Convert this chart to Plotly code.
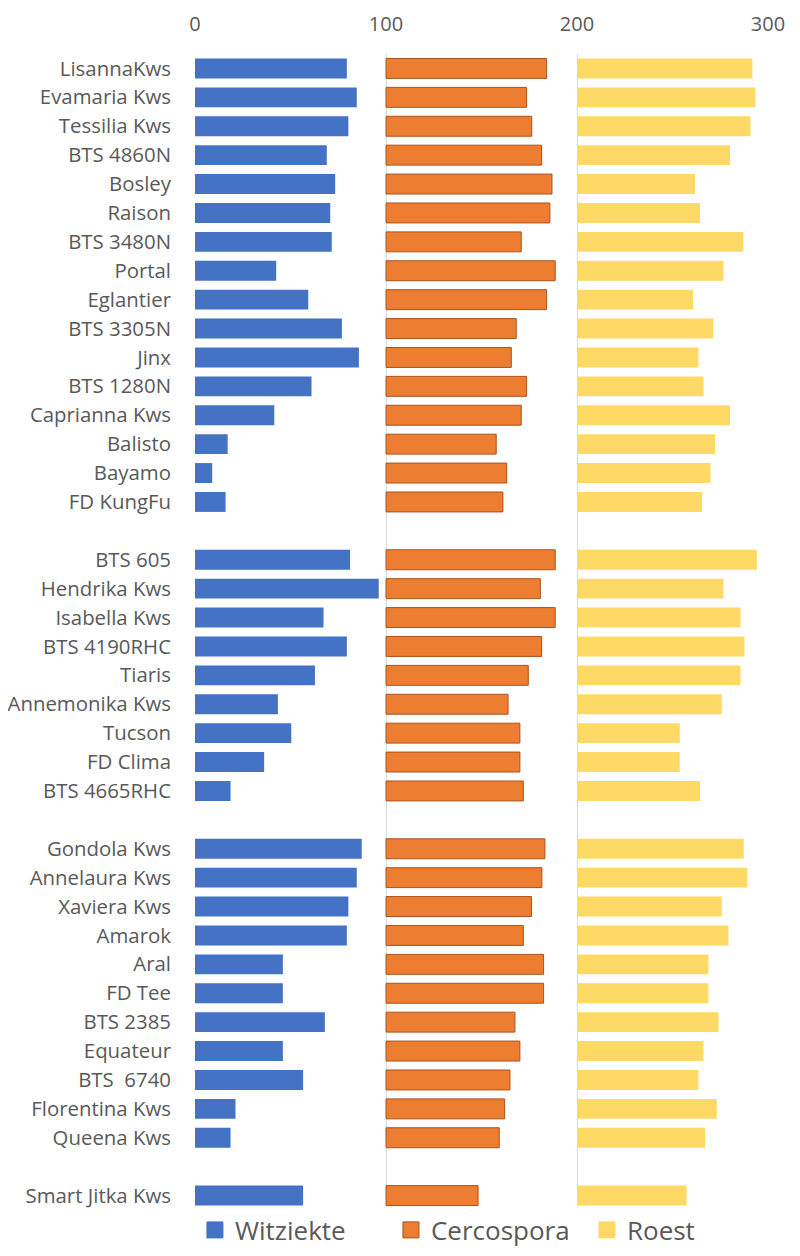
import plotly.graph_objects as go

# Rassen (blank names keep the gaps between the groups)
rassen = ['LisannaKws', 'Evamaria Kws', 'Tessilia Kws', 'BTS 4860N', 'Bosley', 'Raison',
          'BTS 3480N', 'Portal', 'Eglantier', 'BTS 3305N', 'Jinx', 'BTS 1280N',
          'Caprianna Kws', 'Balisto', 'Bayamo', 'FD KungFu', ' ',
          'BTS 605', 'Hendrika Kws', 'Isabella Kws', 'BTS 4190RHC', 'Tiaris',
          'Annemonika Kws', 'Tucson', 'FD Clima', 'BTS 4665RHC', '  ',
          'Gondola Kws', 'Annelaura Kws', 'Xaviera Kws', 'Amarok', 'Aral', 'FD Tee',
          'BTS 2385', 'Equateur', 'BTS  6740', 'Florentina Kws', 'Queena Kws', '   ',
          'Smart Jitka Kws']

witziekte = [79.5, 84.7, 80.3, 69.0, 73.4, 70.8, 71.6, 42.5, 59.3, 76.9, 85.8, 61.0,
             41.5, 17.1, 9.0, 16.0, None,
             81.2, 96.2, 67.3, 79.5, 62.8, 43.4, 50.4, 36.2, 18.6, None,
             87.3, 84.7, 80.3, 79.5, 46.0, 46.0, 68.0, 46.0, 56.6, 21.2, 18.6, None,
             56.6]

cercospora = [84.1, 73.6, 76.3, 81.5, 86.9, 85.8, 70.8, 88.6, 84.1, 68.2, 65.6, 73.6,
              70.8, 57.7, 63.2, 61.2, None,
              88.6, 80.8, 88.6, 81.5, 74.5, 63.9, 70.1, 70.1, 71.9, None,
              83.2, 81.6, 76.2, 71.9, 82.5, 82.5, 67.5, 70.1, 64.9, 62.1, 59.3, None,
              48.2]

roest = [91.8, 93.4, 90.8, 80.1, 61.8, 64.4, 87.1, 76.7, 60.8, 71.4, 63.6, 66.2,
         80.1, 72.3, 69.9, 65.5, None,
         94.2, 76.7, 85.6, 87.7, 85.6, 75.8, 53.8, 53.8, 64.4, None,
         87.3, 89.2, 75.8, 79.3, 68.8, 68.8, 74.1, 66.2, 63.6, 73.2, 67.1, None,
         57.3]

series = [('Witziekte', witziekte, 0, '#4472C4', None),
          ('Cercospora', cercospora, 100, '#ED7D31', '#A9541C'),
          ('Roest', roest, 200, '#FFD966', None)]

# each disease gets its own 100-wide column on the shared axis
fig = go.Figure()
for name, vals, base, color, edge in series:
    fig.add_trace(go.Bar(y=rassen, x=vals, base=base, orientation='h', name=name,
                         legendgroup=name, showlegend=False,
                         marker=dict(color=color,
                                     line=dict(color=edge or color, width=1 if edge else 0))))
# legend entries with bigger square swatches
for name, vals, base, color, edge in series:
    fig.add_trace(go.Scatter(x=[None], y=[None], mode='markers', name=name,
                             legendgroup=name,
                             marker=dict(symbol='square', size=16, color=color,
                                         line=dict(color=edge or color, width=1))))

fig.update_layout(
    width=800, height=1256,
    barmode='overlay', bargap=0.31,
    plot_bgcolor='white', paper_bgcolor='white',
    margin=dict(l=187, r=40, t=46, b=54, autoexpand=False),
    font=dict(family='Open Sans, sans-serif', color='#595959', size=20),
    legend=dict(orientation='h', x=-0.0001, xanchor='left', y=-0.0173, yanchor='middle',
                font=dict(size=26, color='#595959'), itemsizing='trace',
                entrywidth=151, entrywidthmode='pixels'),
)
fig.update_xaxes(side='top', range=[0, 300], tickvals=[0, 100, 200, 300],
                 showgrid=True, gridcolor='#D9D9D9', gridwidth=1,
                 zeroline=False, showline=False, ticklabelstandoff=18,
                 tickfont=dict(size=20))
fig.update_yaxes(categoryorder='array', categoryarray=rassen, autorange='reversed',
                 showgrid=False, showline=False, ticks='', ticklabelstandoff=23,
                 tickfont=dict(size=20.4))

fig.write_html("out.html")
